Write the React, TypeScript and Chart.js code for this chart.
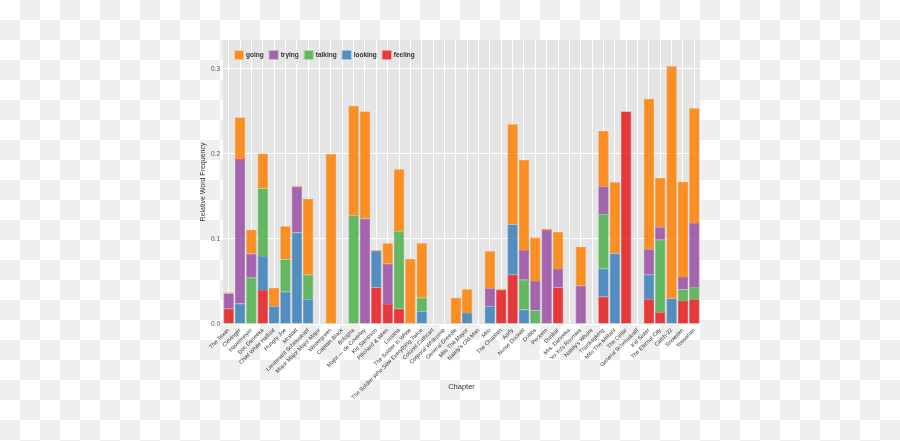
import { useEffect, useRef } from "react";
import { Chart, registerables } from "chart.js";

Chart.register(...registerables);

const chapters = [
  "The Texan", "Clevinger", "Havermeyer", "Doc Daneeka", "Chief White Halfoat",
  "Hungry Joe", "McWatt", "Lieutenant Scheisskopf", "Major Major Major Major", "Wintergreen",
  "Captain Black", "Bologna", "Major — de Coverley", "Kid Sampson", "Piltchard & Wren",
  "Luciana", "The Soldier in White", "The Soldier Who Saw Everything Twice", "Colonel Cathcart", "Corporal Whitcomb",
  "General Dreedle", "Milo The Mayor", "Nately's Old Man", "Milo", "The Chaplain",
  "Aarfy", "Nurse Duckett", "Dobbs", "Peckem", "Dunbar",
  "Mrs. Daneeka", "Yo-Yo's Roomies", "Nately's Whore", "Thanksgiving", "Milo The Militant",
  "The Cellar", "General Scheisskopf", "Kid Sister", "The Eternal City", "Catch-22",
  "Snowden", "Yossarian",
];

// stacked bottom -> top: feeling, looking, talking, trying, going
const feeling = [
  0.018, 0, 0, 0.04, 0, 0, 0, 0, 0, 0,
  0, 0, 0, 0.043, 0.0235, 0.018, 0, 0, 0, 0,
  0, 0, 0, 0, 0.04, 0.058, 0, 0, 0, 0.043,
  0, 0, 0, 0.032, 0, 0.25, 0, 0.029, 0.0137, 0,
  0.027, 0.029,
];
const looking = [
  0, 0.024, 0, 0.04, 0.021, 0.038, 0.1075, 0.029, 0, 0,
  0, 0, 0, 0.043, 0, 0, 0, 0.015, 0, 0,
  0, 0.013, 0, 0.021, 0, 0.059, 0.017, 0, 0, 0,
  0, 0, 0, 0.033, 0.083, 0, 0, 0.029, 0, 0.03,
  0, 0,
];
const talking = [
  0, 0, 0.0545, 0.0795, 0, 0.038, 0, 0.029, 0, 0,
  0, 0.128, 0, 0, 0, 0.091, 0, 0.016, 0, 0,
  0, 0, 0, 0, 0, 0, 0.035, 0.016, 0, 0,
  0, 0, 0, 0.064, 0, 0, 0, 0, 0.0855, 0,
  0.0137, 0.0145,
];
const trying = [
  0.018, 0.17, 0.028, 0, 0, 0, 0.054, 0, 0, 0,
  0, 0, 0.124, 0, 0.0475, 0, 0, 0, 0, 0,
  0, 0, 0, 0.021, 0, 0, 0.035, 0.0346, 0.1106, 0.0216,
  0, 0.045, 0, 0.033, 0, 0, 0, 0.0298, 0.0145, 0,
  0.0145, 0.0753,
];
const going = [
  0.001, 0.049, 0.028, 0.041, 0.0216, 0.039, 0.001, 0.089, 0, 0.2,
  0, 0.1287, 0.126, 0.001, 0.024, 0.073, 0.0765, 0.064, 0, 0,
  0.031, 0.028, 0, 0.0435, 0.001, 0.118, 0.106, 0.051, 0.001, 0.044,
  0, 0.0455, 0, 0.065, 0.0836, 0, 0, 0.177, 0.058, 0.273,
  0.112, 0.135,
];

const yTicks = [0, 0.1, 0.2, 0.3];
const yMax = 0.334;

const FONT = "'Liberation Sans', Arial, sans-serif";

const series = [
  { label: "feeling", data: feeling, rgb: "228,26,28" },
  { label: "looking", data: looking, rgb: "55,126,184" },
  { label: "talking", data: talking, rgb: "77,175,74" },
  { label: "trying", data: trying, rgb: "152,78,163" },
  { label: "going", data: going, rgb: "255,127,0" },
];

// grey panel behind the grid
const panelBg = {
  id: "panelBg",
  beforeDraw(chart: Chart) {
    const { ctx, chartArea } = chart;
    ctx.save();
    ctx.fillStyle = "#e5e5e5";
    ctx.fillRect(chartArea.left, chartArea.top, chartArea.right - chartArea.left, chartArea.bottom - chartArea.top);
    ctx.restore();
  },
};

// legend drawn inside the panel, top-left, going first
const innerLegend = {
  id: "innerLegend",
  afterDatasetsDraw(chart: Chart) {
    const { ctx, chartArea } = chart;
    const sets = [...chart.data.datasets].reverse();
    let x = chartArea.left + 11;
    const y = chartArea.top + 10;
    ctx.save();
    ctx.font = `bold 6.5px ${FONT}`;
    ctx.textBaseline = "middle";
    sets.forEach((ds: any) => {
      ctx.fillStyle = ds.backgroundColor;
      ctx.fillRect(x, y, 10, 10);
      ctx.strokeStyle = "rgba(255,255,255,0.6)";
      ctx.lineWidth = 0.8;
      ctx.strokeRect(x + 0.4, y + 0.4, 9.2, 9.2);
      ctx.fillStyle = "#333";
      ctx.fillText(ds.label, x + 12, y + 5.3);
      x += 12 + ctx.measureText(ds.label).width + 5;
    });
    ctx.restore();
  },
};

const App = () => {
  const canvasRef = useRef<HTMLCanvasElement>(null);
  const chartRef = useRef<Chart | null>(null);

  useEffect(() => {
    if (!canvasRef.current) return;
    if (chartRef.current) chartRef.current.destroy();

    chartRef.current = new Chart(canvasRef.current, {
      type: "bar",
      data: {
        labels: chapters,
        datasets: series.map((s) => ({
          label: s.label,
          data: s.data,
          backgroundColor: `rgba(${s.rgb},0.85)`,
          borderColor: `rgba(${s.rgb},0.9)`,
          borderWidth: 0.6,
          barPercentage: 0.9,
          categoryPercentage: 1,
        })),
      },
      options: {
        responsive: false,
        animation: false,
        devicePixelRatio: 1,
        layout: { padding: { left: 199, right: 200, top: 40, bottom: 0 } },
        plugins: {
          legend: { display: false },
          tooltip: { enabled: false },
        },
        scales: {
          x: {
            stacked: true,
            grid: { color: "#ffffff", lineWidth: 1, offset: false, drawTicks: false },
            border: { display: false },
            ticks: {
              autoSkip: false,
              minRotation: 45,
              maxRotation: 45,
              padding: 3,
              color: "#333",
              font: { family: FONT, size: 5.6 },
            },
            title: {
              display: true,
              text: "Chapter",
              color: "#333",
              padding: { top: 0, bottom: 50 },
              font: { family: FONT, size: 7.5 },
            },
            afterFit: (scale: any) => {
              scale.height = 117;
            },
          },
          y: {
            stacked: true,
            min: 0,
            max: yMax,
            grid: { color: "#ffffff", lineWidth: 1, drawTicks: false },
            border: { display: false },
            afterBuildTicks: (scale: any) => {
              scale.ticks = yTicks.map((v) => ({ value: v }));
            },
            ticks: {
              padding: 3,
              color: "#555",
              font: { family: FONT, size: 6.5 },
              callback: (v: any) => Number(v).toFixed(1),
            },
            title: {
              display: true,
              text: "Relative Word Frequency",
              color: "#333",
              padding: { top: 0, bottom: 3 },
              font: { family: FONT, size: 7 },
            },
            afterFit: (scale: any) => {
              scale.width = 24;
            },
          },
        },
      },
      plugins: [panelBg, innerLegend],
    });

    return () => {
      if (chartRef.current) {
        chartRef.current.destroy();
        chartRef.current = null;
      }
    };
  }, []);

  return (
    <div
      style={{
        position: "fixed",
        left: 0,
        top: 0,
        width: 900,
        height: 441,
        background: "repeating-conic-gradient(#efefef 0 25%, #ffffff 0 50%) 0 0 / 40px 40px",
      }}
    >
      <canvas ref={canvasRef} width={900} height={441} style={{ display: "block" }}></canvas>
    </div>
  );
};

export default App;
